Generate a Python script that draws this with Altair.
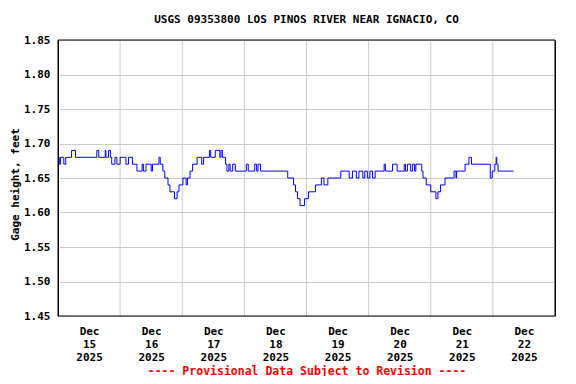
import altair as alt
import pandas as pd

# Gage height series (step changes): hours since 2025-12-15 00:00, value in feet
hours = [0, 0.5, 1.0, 2.25, 3.0, 5.25, 6.75, 15.0, 15.75, 18.25, 18.5, 19.5, 20.25,
         20.75, 22.0, 22.75, 24.0, 26.25, 27.25, 28.75, 30.5, 32.5, 33.0, 34.0, 36.0,
         36.5, 39.0, 39.5, 40.5, 41.25, 42.5, 43.25, 45.0, 46.0, 46.75, 48.25, 49.5,
         50.0, 51.0, 52.0, 53.75, 55.5, 56.25, 58.5, 59.0, 60.75, 62.5, 63.0, 63.5,
         64.75, 65.25, 66.0, 66.5, 67.5, 68.5, 72.75, 73.5, 76.0, 76.75, 77.25, 78.25,
         88.75, 91.0, 91.75, 92.5, 93.5, 95.25, 96.75, 99.5, 101.75, 102.75, 104.25,
         109.25, 112.5, 113.75, 115.25, 116.25, 117.75, 118.5, 119.5, 120.5, 121.5,
         122.5, 126.0, 126.5, 129.25, 131.0, 133.75, 134.25, 135.0, 136.25, 137.0,
         137.75, 138.25, 140.5, 141.0, 142.25, 144.0, 146.0, 146.75, 147.75, 149.5,
         153.0, 153.75, 154.0, 157.25, 158.75, 159.75, 167.0, 167.75, 168.75, 169.25,
         169.5, 170.0, 176.0]
levels = [1.68, 1.67, 1.68, 1.67, 1.68, 1.69, 1.68, 1.69, 1.68, 1.69, 1.68, 1.69, 1.68,
          1.67, 1.68, 1.67, 1.68, 1.67, 1.68, 1.67, 1.66, 1.67, 1.66, 1.67, 1.66,
          1.67, 1.68, 1.67, 1.66, 1.65, 1.64, 1.63, 1.62, 1.63, 1.64, 1.65, 1.64,
          1.65, 1.66, 1.67, 1.68, 1.67, 1.68, 1.69, 1.68, 1.69, 1.68, 1.69, 1.68,
          1.67, 1.66, 1.67, 1.66, 1.67, 1.66, 1.67, 1.66, 1.67, 1.66, 1.67, 1.66,
          1.65, 1.64, 1.63, 1.62, 1.61, 1.62, 1.63, 1.64, 1.65, 1.64, 1.65,
          1.66, 1.65, 1.66, 1.65, 1.66, 1.65, 1.66, 1.65, 1.66, 1.65,
          1.66, 1.67, 1.66, 1.67, 1.66, 1.67, 1.66, 1.67, 1.66, 1.67,
          1.66, 1.67, 1.66, 1.65, 1.64, 1.63, 1.62, 1.63, 1.64, 1.65,
          1.66, 1.65, 1.66, 1.67, 1.68, 1.67, 1.65, 1.66, 1.67, 1.68,
          1.67, 1.66, 1.66]

y_ticks = [1.45, 1.50, 1.55, 1.60, 1.65, 1.70, 1.75, 1.80, 1.85]
day_boundaries = [24, 48, 72, 96, 120, 144, 168]
label_hours = [12, 36, 60, 84, 108, 132, 156, 180]
month_label = "Dec"
day_labels = ["15", "16", "17", "18", "19", "20", "21", "22"]
year_label = "2025"

FONT = "DejaVu Sans Mono"

df = pd.DataFrame({"hour": hours, "gage": levels})
grid_df = pd.DataFrame({"hour": day_boundaries})
frame_df = pd.DataFrame({"frame": [0]})

label_arrays = "[" + ",".join(
    f"['{month_label}','{d}','{year_label}']" for d in day_labels) + "]"
label_expr = f"{label_arrays}[floor(datum.value / 24)]"

x_scale = alt.Scale(domain=[0, 192], nice=False, zero=False)
x_axis = alt.Axis(values=label_hours, labelExpr=label_expr, grid=False,
                  ticks=False, domain=False,
                  labelFont=FONT, labelFontSize=11, labelFontWeight="bold",
                  labelColor="black", labelPadding=9, labelLineHeight=13,
                  labelBaseline="top", labelOverlap=False,
                  title="---- Provisional Data Subject to Revision ----",
                  titleFont=FONT, titleFontSize=11.5, titleFontWeight="bold",
                  titleColor="#ff0000", titlePadding=3)

grid = alt.Chart(grid_df).mark_rule(color="#cccccc", strokeWidth=1).encode(
    x=alt.X("hour:Q", scale=x_scale, axis=x_axis)
)

line = alt.Chart(df).mark_line(color="#0000ff", strokeWidth=1,
                               interpolate="step-after").encode(
    x=alt.X("hour:Q", scale=x_scale, axis=x_axis),
    y=alt.Y("gage:Q", scale=alt.Scale(domain=[1.45, 1.85], nice=False, zero=False),
            axis=alt.Axis(values=y_ticks, format=".2f", grid=True,
                          gridColor="#cccccc", gridWidth=1, ticks=False, domain=False,
                          labelFont=FONT, labelFontSize=11, labelFontWeight="bold",
                          labelColor="black", labelPadding=8,
                          title="Gage height, feet", titleFont=FONT,
                          titleFontSize=11, titleFontWeight="bold",
                          titleColor="black", titlePadding=3, titleY=144))
)

frame = alt.Chart(frame_df).mark_rect(filled=False, stroke="black",
                                      strokeWidth=1).encode(
    x=alt.value(0), x2=alt.value("width"), y=alt.value(0), y2=alt.value("height")
)

chart = alt.layer(grid, line, frame).properties(
    width=497, height=276,
    title=alt.Title("USGS 09353800 LOS PINOS RIVER NEAR IGNACIO, CO",
                    font=FONT, fontSize=11, fontWeight="bold", color="black",
                    anchor="middle", offset=9),
    autosize=alt.AutoSizeParams(type="none"),
    padding={"left": 50, "top": 32, "right": 13, "bottom": 60},
).configure(background="white").configure_view(stroke="black", strokeWidth=1)

chart.save("out.html", embed_options={"renderer": "svg", "actions": False})
